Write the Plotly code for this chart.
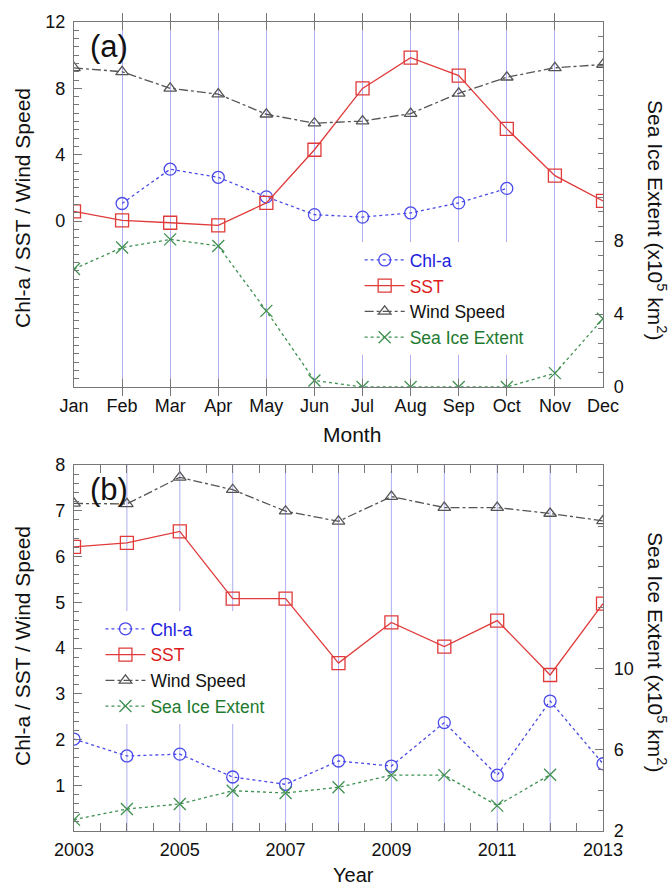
import plotly.graph_objects as go

# ---------------- data ----------------
months = ["Jan", "Feb", "Mar", "Apr", "May", "Jun", "Jul", "Aug", "Sep", "Oct", "Nov", "Dec"]
chl_month = [None, 1.06, 3.13, 2.64, 1.46, 0.39, 0.24, 0.49, 1.10, 1.97, None, None]
sst_month = [0.59, 0.04, -0.10, -0.26, 1.10, 4.30, 8.00, 9.85, 8.77, 5.56, 2.74, 1.22]
wind_month = [9.24, 9.00, 8.00, 7.65, 6.44, 5.90, 6.03, 6.48, 7.70, 8.67, 9.24, 9.44]
ice_month = [6.47, 7.64, 8.09, 7.73, 4.17, 0.36, 0.0, 0.0, 0.0, 0.0, 0.76, 3.74]

years = [2003, 2004, 2005, 2006, 2007, 2008, 2009, 2010, 2011, 2012, 2013]
chl_year = [2.01, 1.64, 1.68, 1.18, 1.02, 1.53, 1.42, 2.37, 1.22, 2.84, 1.47]
sst_year = [6.21, 6.30, 6.55, 5.08, 5.08, 3.67, 4.56, 4.03, 4.60, 3.41, 4.97]
wind_year = [7.16, 7.15, 7.73, 7.46, 6.99, 6.77, 7.31, 7.07, 7.07, 6.94, 6.78]
ice_year = [2.56, 3.08, 3.33, 3.98, 3.87, 4.15, 4.75, 4.75, 3.25, 4.77, None]

# ---------------- styles ----------------
FONT = "Liberation Sans, Arial, Helvetica, sans-serif"
BLUE = "#4a4aea"
RED = "#e03a3a"
GRAY = "#555555"
GREEN = "#3f9050"
AXC = "#777777"
GRID = "rgba(120,120,235,0.6)"

def names(color, text):
    return f"<span style='color:{color}'>{text}</span>"

series_style = [
    ("Chl-a", "#2020e0", BLUE, "dot", "circle-open", 12),
    ("SST", "#dd1c1c", RED, "solid", "square-open", 13),
    ("Wind Speed", "#111111", GRAY, "dashdot", "triangle-up-open", 11),
    ("Sea Ice Extent", "#1e7a2e", GREEN, "dot", "x-thin-open", 12),
]

fig = go.Figure()

def add_panel(x, ys, xa, ya_left, ya_right, legend):
    for (nm, tcol, col, dash, sym, sz), y in zip(series_style, ys):
        fig.add_trace(go.Scatter(
            x=x, y=y, name=names(tcol, nm), mode="lines+markers",
            xaxis=xa, yaxis=(ya_right if nm == "Sea Ice Extent" else ya_left),
            line=dict(color=col, width=1.3, dash=dash),
            marker=dict(symbol=sym, size=sz, color=col, line=dict(color=col, width=1.3)),
            legend=legend, connectgaps=False,
        ))

add_panel(months, [chl_month, sst_month, wind_month, ice_month], "x", "y", "y2", "legend")
add_panel(years, [chl_year, sst_year, wind_year, ice_year], "x2", "y3", "y4", "legend2")

def frange(a, b, s):
    out = []
    v = a
    while v <= b + 1e-9:
        out.append(round(v, 4))
        v += s
    return out

tickfont = dict(family=FONT, size=18, color="#111111")
common = dict(showline=True, linecolor=AXC, linewidth=1.2, ticks="inside", tickcolor=AXC,
              tickwidth=1, zeroline=False, tickfont=tickfont)

top_dom = [0.5488, 1.0]
bot_dom = [0.0, 0.4524]

left_top_vals = [0, 4, 8, 12]
right_top_vals = [0, 4, 8]
left_bot_vals = [1, 2, 3, 4, 5, 6, 7, 8]
right_bot_vals = [2, 6, 10]
year_lab = [2003, 2005, 2007, 2009, 2011, 2013]

fig.update_layout(
    xaxis=dict(domain=[0, 1], anchor="y", type="category", range=[0, 11],
               showgrid=True, gridcolor=GRID, gridwidth=1, ticklen=8,
               mirror="allticks", ticklabelstandoff=2, **common),
    yaxis=dict(domain=top_dom, anchor="x", range=[-10, 12],
               tickmode="array", tickvals=left_top_vals,
               ticklen=8, showgrid=False, ticklabelstandoff=4,
               minor=dict(tickmode="array", tickvals=frange(-10, 12, 0.5), ticks="inside",
                          ticklen=5, tickcolor=AXC, showgrid=False),
               **common),
    yaxis2=dict(overlaying="y", anchor="x", side="right", range=[0, 20],
                tickmode="array", tickvals=right_top_vals,
                ticklen=8, showgrid=False, ticklabelstandoff=6,
                minor=dict(tickmode="array", tickvals=frange(0, 20, 0.8), ticks="inside",
                           ticklen=5, tickcolor=AXC, showgrid=False),
                **common),
    xaxis2=dict(domain=[0, 1], anchor="y3", range=[2003, 2013],
                tickmode="array", tickvals=year_lab,
                showgrid=False, ticklen=8,
                mirror="allticks", ticklabelstandoff=2,
                minor=dict(tickmode="array", tickvals=frange(2003, 2013, 0.5), ticks="inside",
                           ticklen=6, tickcolor=AXC, showgrid=True, gridcolor=GRID,
                           gridwidth=1),
                **common),
    yaxis3=dict(domain=bot_dom, anchor="x2", range=[0, 8],
                tickmode="array", tickvals=left_bot_vals,
                ticklen=8, showgrid=False, ticklabelstandoff=4,
                minor=dict(tickmode="array", tickvals=frange(0, 8, 0.2), ticks="inside",
                           ticklen=5, tickcolor=AXC, showgrid=False),
                **common),
    yaxis4=dict(overlaying="y3", anchor="x2", side="right", range=[2, 20],
                tickmode="array", tickvals=right_bot_vals,
                ticklen=8, showgrid=False, ticklabelstandoff=6,
                minor=dict(tickmode="array", tickvals=frange(2, 20, 1), ticks="inside",
                           ticklen=5, tickcolor=AXC, showgrid=False),
                **common),
)

# vertical blue lines at each year in the bottom panel
for yv in years[1:-1]:
    fig.add_shape(type="line", xref="x2", yref="y3 domain", x0=yv, x1=yv, y0=0, y1=1,
                  line=dict(color=GRID, width=1), layer="below")
# hide the half-year minor gridlines by not using them
fig.update_layout(xaxis2_minor_showgrid=False)

legend_common = dict(font=dict(family=FONT, size=17.5), bgcolor="white", borderwidth=0,
                     tracegroupgap=0, itemwidth=40, xanchor="left", yanchor="top")
fig.update_layout(
    legend=dict(x=0.540, y=0.728, **legend_common),
    legend2=dict(x=0.050, y=0.272, **legend_common),
)

def px_x(p):
    return (p - 74) / 529.0

def px_y(p):
    return (831 - p) / 809.0

ann = []
def add_ann(text, x, y, size, angle=0):
    ann.append(dict(text=text, x=px_x(x), y=px_y(y), xref="paper", yref="paper",
                    showarrow=False, xanchor="center", yanchor="middle", textangle=angle,
                    font=dict(family=FONT, size=size, color="#111111")))

add_ann("Month", 352, 434, 21)
add_ann("Year", 353, 875, 20)
add_ann("Chl-a / SST / Wind Speed", 22, 208, 21, -90)
add_ann("Chl-a / SST / Wind Speed", 22, 646, 21, -90)
add_ann("Sea Ice Extent (x10<sup>5</sup> km<sup>2</sup>)", 657, 220, 21, 90)
add_ann("Sea Ice Extent (x10<sup>5</sup> km<sup>2</sup>)", 657, 652, 21, 90)
add_ann("(a)", 109, 47, 31)
add_ann("(b)", 109, 489, 31)

fig.update_layout(
    annotations=ann,
    width=672, height=887,
    margin=dict(l=74, r=69, t=22, b=56),
    paper_bgcolor="white", plot_bgcolor="white",
    font=dict(family=FONT, size=18, color="#111111"),
)

fig.write_html("out.html")
